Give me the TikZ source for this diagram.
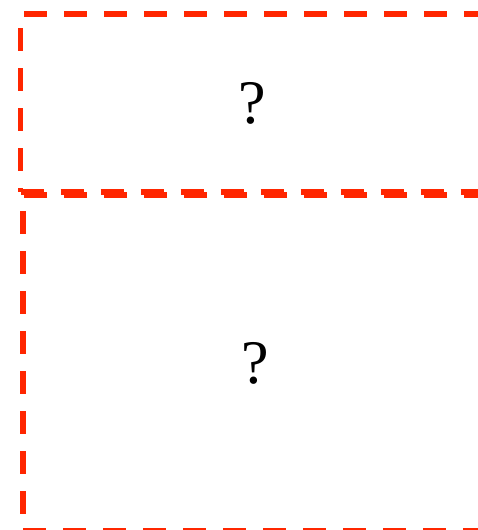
\documentclass[tikz,border=0pt]{standalone}
\usepackage{fontspec}
\setmainfont{Liberation Serif}
\usepackage{tikz}
\usetikzlibrary{positioning}
\definecolor{flame}{RGB}{255,38,0}
\tikzset{
  zone/.style ={draw=flame, line width=5.5pt, dash pattern=on 23pt off 17pt,
                anchor=north west, inner sep=0pt, outer sep=0pt},
  ask/.style  ={font=\fontsize{62}{74}\selectfont},
}

\begin{document}
\begin{tikzpicture}[x=1pt,y=-1pt]
  \useasboundingbox (0,0) rectangle (477,530);

  % ---------------------------------------------------------------- zones
  % upper zone, lower zone slightly shifted right and down
  \node[zone, ask, minimum width=464pt, minimum height=178pt] (upper) at (20.5,14)  {?};
  \node[zone, ask, minimum width=464pt, minimum height=336pt] (lower) at (23,195)   {?};
\end{tikzpicture}
\end{document}
